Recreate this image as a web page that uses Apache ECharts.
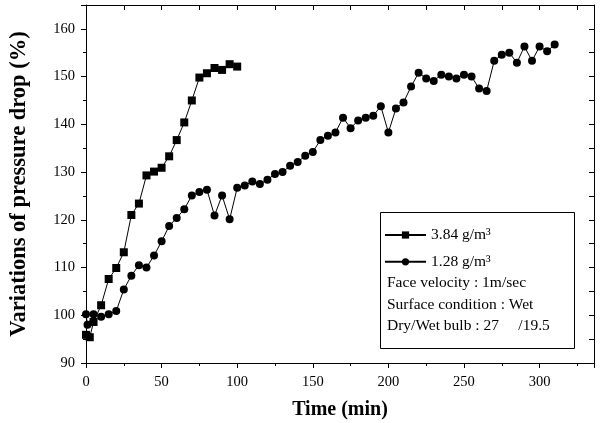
<!DOCTYPE html>
<html>
<head>
<meta charset="utf-8">
<script src="https://cdn.jsdelivr.net/npm/echarts@6/dist/echarts.min.js"></script>
<style>
  html, body { margin: 0; padding: 0; background: #fff; }
  #chart { width: 605px; height: 423px; }
</style>
</head>
<body>
<div id="chart"></div>
<script>
// 3.84 g/m3 series (squares)
let timeHigh = [0, 2.5, 5, 10, 15, 20, 25, 30, 35, 40, 45, 50, 55, 60, 65, 70, 75, 80, 85, 90, 95, 100];
let dropHigh = [95.9, 95.4, 98.6, 102.1, 107.6, 109.9, 113.2, 121.0, 123.4, 129.3, 130.1, 130.9, 133.3, 136.7, 140.4, 145.0, 149.8, 150.7, 151.8, 151.4, 152.6, 152.1];

// 1.28 g/m3 series (circles)
let timeLow = [0, 1, 5, 10, 15, 20, 25, 30, 35, 40, 45, 50, 55, 60, 65, 70, 75, 80, 85, 90, 95, 100,
  105, 110, 115, 120, 125, 130, 135, 140, 145, 150, 155, 160, 165, 170, 175, 180, 185, 190, 195, 200,
  205, 210, 215, 220, 225, 230, 235, 240, 245, 250, 255, 260, 265, 270, 275, 280, 285, 290, 295, 300, 305, 310];
let dropLow = [100.2, 98.0, 100.2, 99.7, 100.2, 100.9, 105.4, 108.3, 110.5, 110.0, 112.5, 115.5, 118.7, 120.4, 122.2, 125.1, 125.8, 126.3, 120.9, 125.1, 120.1, 126.7,
  127.2, 128.0, 127.5, 128.4, 129.6, 130.0, 131.3, 132.1, 133.4, 134.2, 136.7, 137.6, 138.3, 141.4, 139.2, 140.8, 141.4, 141.8, 143.8, 138.3,
  143.3, 144.6, 147.9, 150.8, 149.6, 149.1, 150.4, 150.0, 149.6, 150.4, 150.0, 147.5, 147.0, 153.3, 154.6, 155.0, 152.9, 156.3, 153.3, 156.3, 155.3, 156.7];

let seriesNames = ['3.84 g/m³', '1.28 g/m³'];
let noteLines = ['Face velocity : 1m/sec', 'Surface condition : Wet', 'Dry/Wet bulb : 27     /19.5'];

function pairs(xs, ys) {
  return xs.map(function (x, i) { return [x, ys[i]]; });
}

let font = 'Liberation Serif';
let chart = echarts.init(document.getElementById('chart'));

let axisLine = { show: true, onZero: false, lineStyle: { color: '#000', width: 1 } };

let option = {
  animation: false,
  backgroundColor: '#fff',
  textStyle: { fontFamily: font, color: '#000' },
  grid: { left: 86, right: 11, top: 5, bottom: 60, outerBoundsMode: 'none' },
  legend: {
    orient: 'vertical',
    left: 379,
    top: 222,
    itemWidth: 41,
    itemHeight: 9,
    itemGap: 10.8,
    data: seriesNames,
    textStyle: { fontFamily: font, fontSize: 15.5, color: '#000' }
  },
  xAxis: [
    {
      type: 'value', min: 0, max: 336, interval: 50,
      name: 'Time (min)', nameLocation: 'middle', nameGap: 37,
      nameTextStyle: { fontFamily: font, fontSize: 20, fontWeight: 'bold', color: '#000' },
      axisLine: axisLine,
      axisTick: { show: true, length: 5, lineStyle: { color: '#000' } },
      minorTick: { show: true, splitNumber: 2, length: 3, lineStyle: { color: '#000' } },
      axisLabel: { margin: 12, fontSize: 14.5, color: '#000', fontFamily: font, showMaxLabel: false },
      splitLine: { show: false }
    },
    {
      type: 'value', min: 0, max: 336, interval: 25, position: 'top',
      axisLine: axisLine,
      axisTick: { show: true, inside: true, length: 5, lineStyle: { color: '#000' } },
      axisLabel: { show: false },
      splitLine: { show: false }
    }
  ],
  yAxis: [
    {
      type: 'value', min: 90, max: 165, interval: 10,
      name: 'Variations of pressure drop (%)', nameLocation: 'middle', nameGap: 55,
      nameTextStyle: { fontFamily: font, fontSize: 22.5, fontWeight: 'bold', color: '#000' },
      axisLine: axisLine,
      axisTick: { show: true, length: 5, lineStyle: { color: '#000' } },
      minorTick: { show: true, splitNumber: 2, length: 3, lineStyle: { color: '#000' } },
      axisLabel: { margin: 11, fontSize: 14.5, color: '#000', fontFamily: font, showMaxLabel: false },
      splitLine: { show: false }
    },
    {
      type: 'value', min: 90, max: 165, interval: 5, position: 'right',
      axisLine: axisLine,
      axisTick: { show: true, inside: true, length: 5, lineStyle: { color: '#000' } },
      axisLabel: { show: false },
      splitLine: { show: false }
    }
  ],
  series: [
    {
      name: seriesNames[0],
      type: 'line',
      data: pairs(timeHigh, dropHigh),
      symbol: 'rect',
      symbolSize: 8,
      itemStyle: { color: '#000' },
      lineStyle: { color: '#000', width: 1 }
    },
    {
      name: seriesNames[1],
      type: 'line',
      data: pairs(timeLow, dropLow),
      symbol: 'circle',
      symbolSize: 8,
      itemStyle: { color: '#000' },
      lineStyle: { color: '#000', width: 1 }
    }
  ],
  graphic: [
    {
      type: 'rect', left: 378, top: 210,
      shape: { width: 194, height: 136 },
      style: { fill: 'none', stroke: '#000', lineWidth: 1 }
    }
  ].concat(noteLines.map(function (t, i) {
    return {
      type: 'text', left: 387, top: 275 + i * 21.5,
      style: { text: t, fontFamily: font, fontSize: 15.5, fill: '#000' }
    };
  }))
};

chart.setOption(option);
</script>
</body>
</html>
